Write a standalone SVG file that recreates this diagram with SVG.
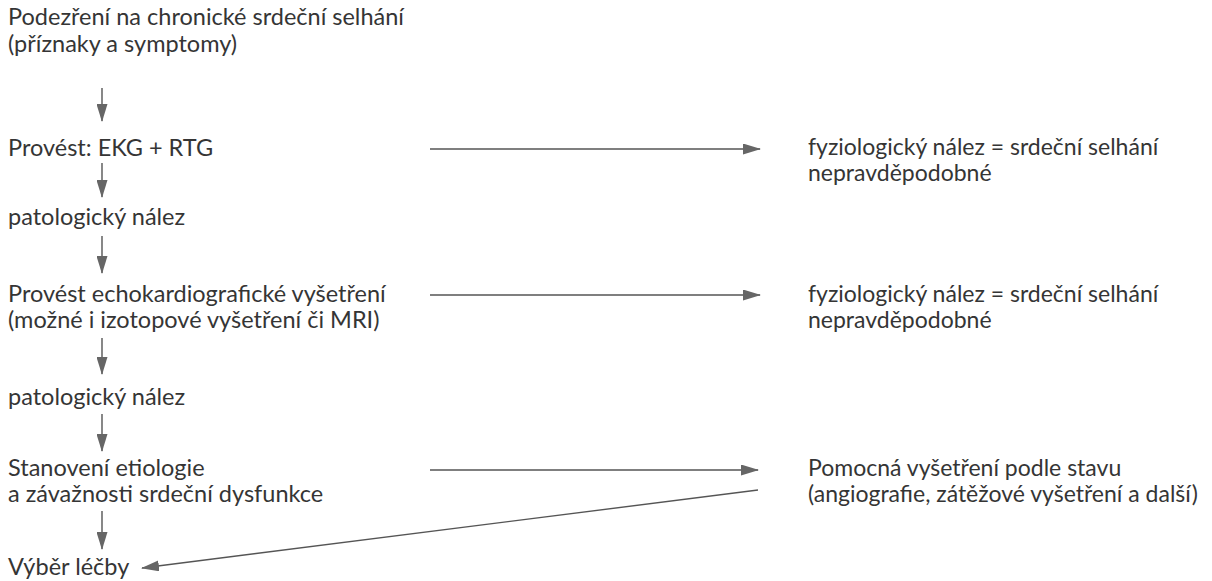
<svg xmlns="http://www.w3.org/2000/svg" width="1212" height="581" viewBox="0 0 1212 581">
<style>
text{font-family:Lato,"Liberation Sans",sans-serif;font-size:23.5px;fill:#353535}
.r text{font-size:23px}
.c line{stroke:#555;stroke-width:1.4}
</style>
<defs>
<marker id="ah" viewBox="0 0 18 11" refX="17" refY="5.5" markerWidth="18" markerHeight="11" markerUnits="userSpaceOnUse" orient="auto">
<path d="M0,0 L18,5.5 L0,11 Z" fill="#666"/>
</marker>
</defs>
<rect width="1212" height="581" fill="#fff"/>
<g id="n1"><text x="8" y="25">Podezření na chronické srdeční selhání</text><text x="8" y="52">(příznaky a symptomy)</text></g>
<g id="n2"><text x="8" y="156">Provést: EKG + RTG</text></g>
<g id="n3"><text x="8" y="225">patologický nález</text></g>
<g id="n4"><text x="8" y="302">Provést echokardiografické vyšetření</text><text x="8" y="328">(možné i izotopové vyšetření či MRI)</text></g>
<g id="n5"><text x="8" y="405">patologický nález</text></g>
<g id="n6"><text x="8" y="476">Stanovení etiologie</text><text x="8" y="502">a závažnosti srdeční dysfunkce</text></g>
<g id="n7"><text x="8" y="575">Výběr léčby</text></g>
<g class="r">
<g id="r1"><text x="808" y="155">fyziologický nález = srdeční selhání</text><text x="808" y="181">nepravděpodobné</text></g>
<g id="r2"><text x="808" y="302">fyziologický nález = srdeční selhání</text><text x="808" y="328">nepravděpodobné</text></g>
<g id="r3"><text x="808" y="476">Pomocná vyšetření podle stavu</text><text x="808" y="502">(angiografie, zátěžové vyšetření a další)</text></g>
</g>
<g class="c" id="connectors">
<line x1="102" y1="88" x2="102" y2="121" marker-end="url(#ah)"/>
<line x1="102" y1="163" x2="102" y2="197" marker-end="url(#ah)"/>
<line x1="102" y1="236" x2="102" y2="273" marker-end="url(#ah)"/>
<line x1="102" y1="338" x2="102" y2="374" marker-end="url(#ah)"/>
<line x1="102" y1="414" x2="102" y2="451" marker-end="url(#ah)"/>
<line x1="102" y1="511" x2="102" y2="549" marker-end="url(#ah)"/>
<line x1="430" y1="149" x2="760" y2="149" marker-end="url(#ah)"/>
<line x1="430" y1="295" x2="760" y2="295" marker-end="url(#ah)"/>
<line x1="430" y1="470" x2="758" y2="470" marker-end="url(#ah)"/>
<line x1="758" y1="490" x2="142" y2="568" marker-end="url(#ah)"/>
</g>
</svg>
